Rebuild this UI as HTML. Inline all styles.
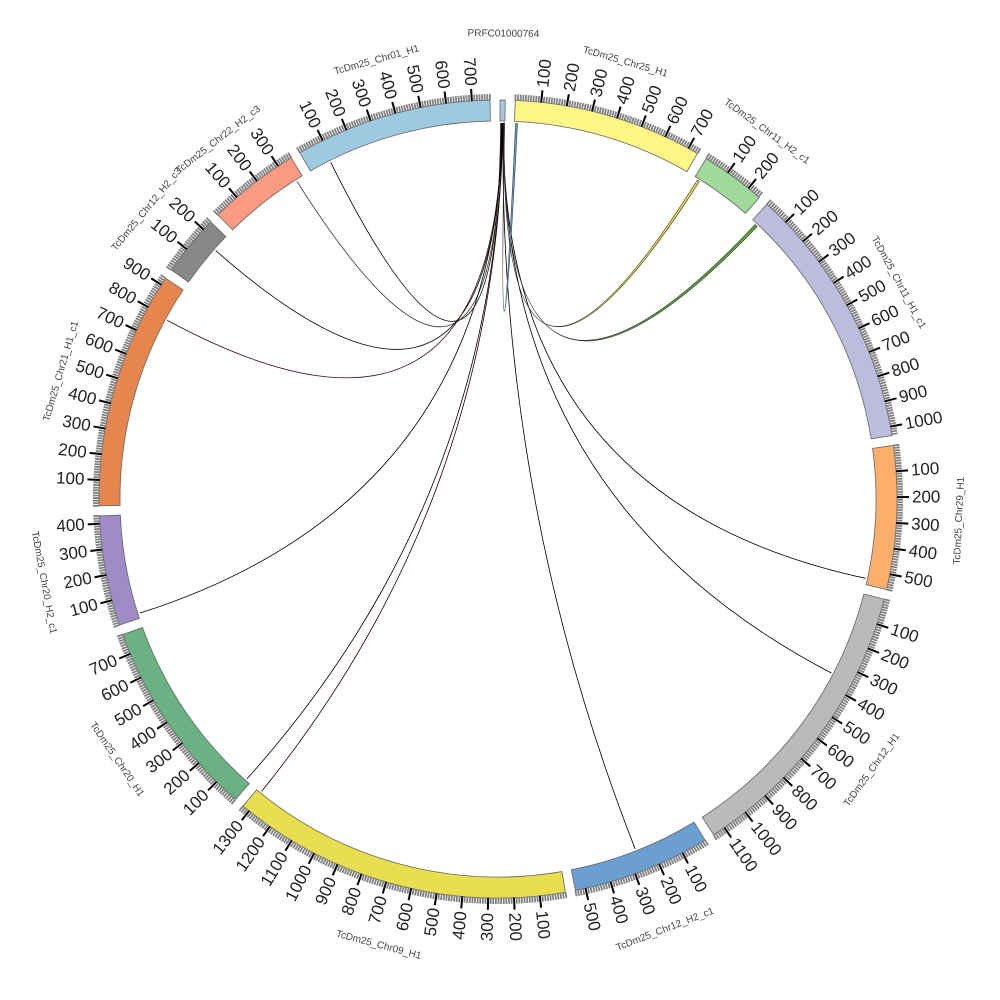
<!DOCTYPE html>
<html><head><meta charset="utf-8"><style>
html,body{margin:0;padding:0;background:#fff;}
svg{display:block;font-family:"Liberation Sans",sans-serif;}
</style></head><body>
<svg id="chart" width="1000" height="1000" viewBox="0 0 1000 1000">
<g id="links"></g>
<g id="ideo"></g>
</svg>
<script>
const chromNames=["PRFC01000764","TcDm25_Chr25_H1","TcDm25_Chr11_H2_c1","TcDm25_Chr11_H1_c1","TcDm25_Chr29_H1","TcDm25_Chr12_H1","TcDm25_Chr12_H2_c1","TcDm25_Chr09_H1","TcDm25_Chr20_H1","TcDm25_Chr20_H2_c1","TcDm25_Chr21_H1_c1","TcDm25_Chr12_H2_c3","TcDm25_Chr22_H2_c3","TcDm25_Chr01_H1"];
const chromLengths=[20,740,255,1035,560,1150,540,1330,780,430,930,240,360,770];
const chromColors=["#a9c6e0","#fff685","#a1d99b","#bcbddc","#fdae6b","#bababa","#6a9fcf","#e8de50","#6ab183","#9e8cc6","#e6864f","#888888","#fc9a83","#9ecae1"];
const linkSrcPos=[3,5,7,9,10,11,12,13,14,15,16,17,18];
const linkTarget=[13,12,11,10,9,8,7,6,5,4,3,2,1];
const linkTgtPos=[90,330,170,790,20,20,1310,265,350,535,20,15,5];
const linkWidth=[1,1,1,1,1,1,1,1,1,1,12,10,8];
const linkColor=["#000","#332","#000","#311","#000","#000","#200","#000","#000","#000","#5aa33c","#e8d84a","#6aa8d8"];

const NS="http://www.w3.org/2000/svg";
const cx=498,cy=499,rIn=378,rOut=399,gap=1.45,startDeg=0.3;
const total=chromLengths.reduce((a,b)=>a+b,0);
const dpu=(360-gap*chromLengths.length)/total;
const starts=[];let acc=startDeg;
chromLengths.forEach(l=>{starts.push(acc);acc+=l*dpu+gap;});
function ang(ci,pos){return starts[ci]+pos*dpu;}
function pt(deg,r){const a=deg*Math.PI/180;return [cx+r*Math.sin(a),cy-r*Math.cos(a)];}
function mk(tag,attrs,parent){const e=document.createElementNS(NS,tag);for(const k in attrs)e.setAttribute(k,attrs[k]);parent.appendChild(e);return e;}
const ideo=document.getElementById('ideo'),links=document.getElementById('links');

chromLengths.forEach((len,i)=>{
  const g=mk('g',{},ideo);
  
  
  const a0=starts[i],a1=starts[i]+len*dpu;
  const p1=pt(a0,rOut),p2=pt(a1,rOut),p3=pt(a1,rIn),p4=pt(a0,rIn);
  const lg=(a1-a0)>180?1:0;
  const band=mk('path',{d:`M${p1}A${rOut},${rOut} 0 ${lg} 1 ${p2}L${p3}A${rIn},${rIn} 0 ${lg} 0 ${p4}Z`,fill:chromColors[i],stroke:'#666','stroke-width':0.8},g);
  
  
  if(i>0){
    let d='';
    for(let p=0;p<=len;p+=10){if(p%100===0&&p>0)continue;const a=ang(i,p);const q1=pt(a,rOut),q2=pt(a,rOut+6);d+=`M${q1}L${q2}`;}
    const mt=mk('path',{d:d,stroke:'#808080','stroke-width':1.8},g);
    
    
    for(let p=100;p<=len;p+=100){
      const a=ang(i,p);const q1=pt(a,rOut),q2=pt(a,rOut+12);
      const t=mk('line',{x1:q1[0],y1:q1[1],x2:q2[0],y2:q2[1],stroke:'#000','stroke-width':2},g);
      
      
      const lp=pt(a,rOut+15);
      const norm=((a%360)+360)%360;
      const right=norm<180;
      const rot=right?norm-90:norm+90;
      const tx=mk('text',{x:lp[0],y:lp[1],transform:`rotate(${rot} ${lp[0]} ${lp[1]})`,'text-anchor':right?'start':'end','dominant-baseline':'central','font-size':17,fill:'#222'},g);
      tx.textContent=p;
      
      
    }
  }
  const mid=((a0+a1)/2+360)%360;
  const flip=mid>90&&mid<270;
  const np=pt(mid,i===0?465:(flip?462:455));
  const nrot=flip?mid-180:mid;
  const nt=mk('text',{x:np[0],y:np[1],transform:`rotate(${nrot} ${np[0]} ${np[1]})`,'text-anchor':'middle','dominant-baseline':'central','font-size':10,fill:'#444'},g);
  nt.textContent=chromNames[i];
  
  
});

linkSrcPos.forEach((sp,k)=>{
  const w=linkWidth[k];
  const s0=ang(0,sp),s1=ang(0,sp+Math.min(w,4)*0.3);
  const t0=ang(linkTarget[k],linkTgtPos[k]),t1=ang(linkTarget[k],linkTgtPos[k]+w);
  const r=rIn-2;
  const A=pt(s0,r),B=pt(s1,r),C=pt(t0,r),D=pt(t1,r);
  const path=w>2?`M${A}Q${cx},${cy} ${D}L${C}Q${cx},${cy} ${B}Z`:`M${A}Q${cx},${cy} ${C}`;
  const el=mk('path',{d:path,fill:w>2?linkColor[k]:'none',stroke:w>2?'#333':linkColor[k],'stroke-width':w>2?0.6:0.8},links);
  
  
});
</script>
</body></html>
